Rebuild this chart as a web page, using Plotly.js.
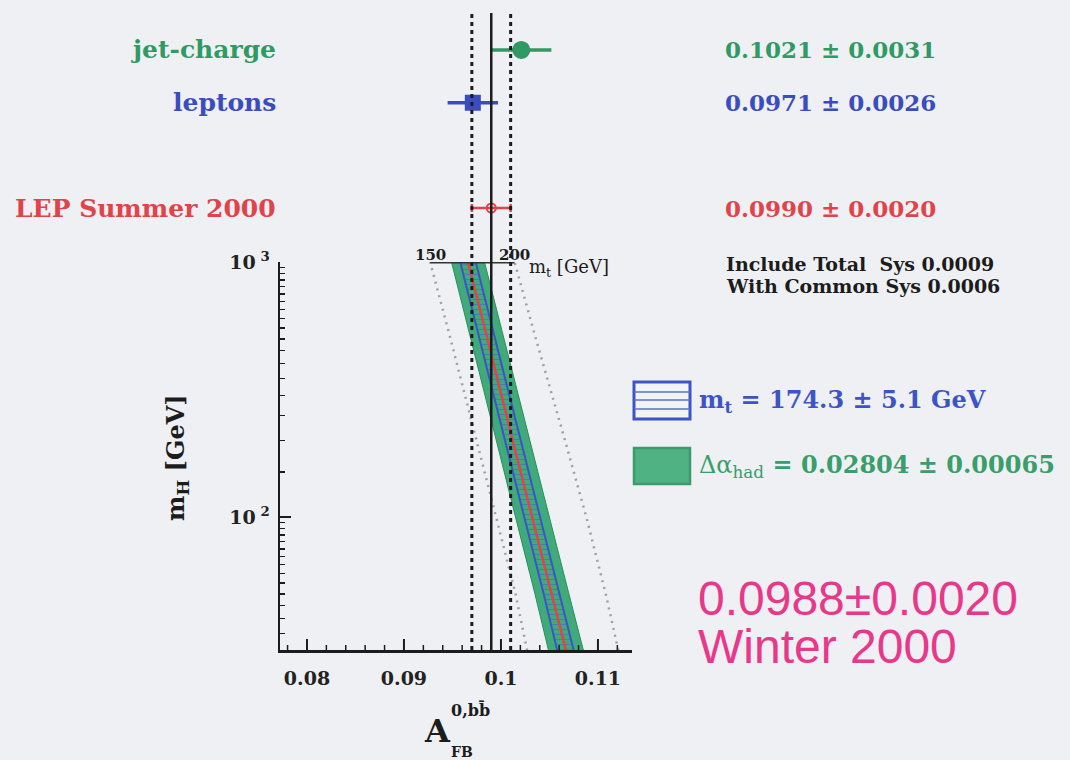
<!DOCTYPE html>
<html>
<head>
<meta charset="utf-8">
<script src="https://cdn.plot.ly/plotly-3.0.1.min.js"></script>
<style>
  html, body { margin: 0; padding: 0; background: #eef0f3; }
  #chart { width: 1070px; height: 760px; }
</style>
</head>
<body>
<div id="chart"></div>
<script>
// ---- Measurements of A_FB^{0,b} ----
const measNames   = ['jet-charge', 'leptons', 'LEP Summer 2000'];
const measValues  = [0.1021, 0.0971, 0.0990];
const measErrors  = [0.0031, 0.0026, 0.0020];
const measRows    = [4, 3, 1];

// ---- Standard Model prediction versus the Higgs mass ----
const mH          = [30, 50, 100, 200, 500, 1000];
const afbCentral  = [0.1067, 0.1052, 0.1032, 0.1012, 0.0986, 0.0966];
const afbAlphaLo  = [0.1049, 0.1035, 0.1015, 0.0995, 0.0969, 0.0949];
const afbAlphaHi  = [0.1085, 0.1070, 0.1050, 0.1030, 0.1003, 0.0983];
const afbTopLo    = [0.1058, 0.1044, 0.1024, 0.1004, 0.0978, 0.0958];
const afbTopHi    = [0.1075, 0.1060, 0.1040, 0.1020, 0.0994, 0.0974];
const afbMt150    = [0.1027, 0.1015, 0.0995, 0.0975, 0.0948, 0.0927];
const afbMt200    = [0.1121, 0.1108, 0.1088, 0.1066, 0.1036, 0.1014];
const mtScale     = ['150', '200'];

// ---- axis tick labels ----
const xTickVals   = [0.08, 0.09, 0.1, 0.11];
const xTickText   = ['0.08', '0.09', '0.1', '0.11'];
const xMinorVals  = [0.078, 0.082, 0.084, 0.086, 0.088, 0.092, 0.094, 0.096, 0.098,
                     0.102, 0.104, 0.106, 0.108, 0.112];
const yTickVals   = [100, 1000];
const yTickText   = ['10<sup> 2</sup>', '10<sup> 3</sup>'];
const yMinorVals  = [35, 40, 45, 50, 55, 60, 65, 70, 75, 80, 85, 90, 95,
                     150, 200, 250, 300, 350, 400, 450, 500, 550, 600, 650, 700, 750, 800, 850, 900, 950];

// ---- Inputs quoted in the legend ----
const topMass = 174.3, topMassErr = 5.1;
const dAlphaHad = 0.02804, dAlphaHadErr = 0.00065;
const sysTotal = 0.0009, sysCommon = 0.0006;
const winterValue = 0.0988, winterErr = 0.0020;

// ---- colours ----
const cGreen = '#2f9a63', cBlue = '#3a4cc0', cRed = '#e0434a', cInk = '#1c1c1c';
const measColors  = [cGreen, cBlue, cRed];
const measSymbols = ['circle', 'square', 'circle-open'];
const measSizes   = [16, 14, 9];

// ---- page geometry helpers (pixels -> paper fractions) ----
const W = 1070, H = 760, L = 280, R = 438, T = 10, B = 110;
const plotW = W - L - R, plotH = H - T - B;
const px = p => (p - L) / plotW;
const py = p => (H - B - p) / plotH;
const splitY = py(262);
const xRange = [0.07722, 0.11351];

const serif = (size, color, weight) => ({ family: 'DejaVu Serif', size: size, color: color, weight: weight || 'bold' });

const traces = [];

// Delta alpha_had band
traces.push({
  x: afbAlphaLo.concat(afbAlphaHi.slice().reverse()),
  y: mH.concat(mH.slice().reverse()),
  xaxis: 'x', yaxis: 'y', mode: 'lines', fill: 'toself',
  fillcolor: '#41aa7b', line: { color: '#2c8d5e', width: 1 },
  hoverinfo: 'skip', showlegend: false
});
// m_t band
traces.push({
  x: afbTopLo.concat(afbTopHi.slice().reverse()),
  y: mH.concat(mH.slice().reverse()),
  xaxis: 'x', yaxis: 'y', mode: 'lines', fill: 'toself',
  fillcolor: 'rgba(0,0,0,0)',
  fillpattern: { shape: '-', fgcolor: 'rgba(70,95,205,0.55)', bgcolor: 'rgba(0,0,0,0)', size: 5, solidity: 0.25 },
  line: { color: '#3d55c4', width: 2 },
  hoverinfo: 'skip', showlegend: false
});
// central prediction
traces.push({
  x: afbCentral, y: mH, xaxis: 'x', yaxis: 'y', mode: 'lines',
  line: { color: cRed, width: 2.5 }, hoverinfo: 'skip', showlegend: false
});
// m_t = 150 and 200 GeV predictions
[afbMt150, afbMt200].forEach(arr => traces.push({
  x: arr, y: mH, xaxis: 'x', yaxis: 'y', mode: 'lines',
  line: { color: '#9c9fa3', width: 2.5, dash: '2px,5px' }, hoverinfo: 'skip', showlegend: false
}));
// m_t scale at the top of the m_H axis
traces.push({
  x: [afbMt150[afbMt150.length - 1], afbMt200[afbMt200.length - 1]],
  y: [mH[mH.length - 1], mH[mH.length - 1]],
  xaxis: 'x', yaxis: 'y', mode: 'lines',
  line: { color: '#333333', width: 3 }, hoverinfo: 'skip', showlegend: false, cliponaxis: false
});

// measurements with horizontal error bars (upper panel)
measNames.forEach((name, i) => traces.push({
  x: [measValues[i]], y: [measRows[i]], xaxis: 'x2', yaxis: 'y2',
  mode: 'markers', type: 'scatter',
  marker: { symbol: measSymbols[i], size: measSizes[i], color: measColors[i], line: { color: measColors[i], width: 2 } },
  error_x: { type: 'data', array: [measErrors[i]], color: measColors[i], thickness: i === 2 ? 2.5 : 3.5, width: i === 2 ? 4 : 0 },
  hoverinfo: 'skip', showlegend: false, cliponaxis: false
}));

// vertical lines for the LEP average and its error
const lepIdx = 2;
const vline = (x, dash) => ({
  type: 'line', xref: 'x', yref: 'paper', x0: x, x1: x, y0: 0, y1: py(13),
  line: { color: cInk, width: dash ? 3 : 2.5, dash: dash || 'solid' }, layer: 'above'
});
const shapes = [
  vline(measValues[lepIdx]),
  vline(measValues[lepIdx] - measErrors[lepIdx], '4px,4px'),
  vline(measValues[lepIdx] + measErrors[lepIdx], '4px,4px'),
  // legend swatches
  { type: 'rect', xref: 'paper', yref: 'paper', x0: px(634), x1: px(690), y0: py(419), y1: py(382),
    line: { color: '#3d55c4', width: 3 }, fillcolor: 'rgba(255,255,255,0.2)' },
  { type: 'line', xref: 'paper', yref: 'paper', x0: px(634), x1: px(690), y0: py(392), y1: py(392), line: { color: '#5a6fd0', width: 1.5 } },
  { type: 'line', xref: 'paper', yref: 'paper', x0: px(634), x1: px(690), y0: py(400), y1: py(400), line: { color: '#5a6fd0', width: 1.5 } },
  { type: 'line', xref: 'paper', yref: 'paper', x0: px(634), x1: px(690), y0: py(409), y1: py(409), line: { color: '#5a6fd0', width: 1.5 } },
  { type: 'rect', xref: 'paper', yref: 'paper', x0: px(634), x1: px(690), y0: py(484), y1: py(448),
    line: { color: '#3c9a6c', width: 2.5 }, fillcolor: '#4fb283' }
];
// upward tick marks along the bottom axis
const xTick = (v, len, w) => ({
  type: 'line', xref: 'x', yref: 'paper', x0: v, x1: v, y0: 0, y1: len / plotH,
  line: { color: cInk, width: w }, layer: 'above'
});
xTickVals.forEach(v => shapes.push(xTick(v, 11, 2)));
xMinorVals.forEach(v => shapes.push(xTick(v, 5, 1.5)));

const fmt4 = v => v.toFixed(4);
const annotations = [];
measNames.forEach((name, i) => {
  annotations.push({ text: name, xref: 'paper', yref: 'y2', x: px(278), y: measRows[i],
    xanchor: 'right', yanchor: 'middle', showarrow: false, font: serif(25, measColors[i]) });
  annotations.push({ text: fmt4(measValues[i]) + ' ± ' + fmt4(measErrors[i]), xref: 'paper', yref: 'y2',
    x: px(723), y: measRows[i], xanchor: 'left', yanchor: 'middle', showarrow: false, font: serif(23, measColors[i]) });
});
annotations.push(
  { text: 'Include Total\u00a0 Sys ' + fmt4(sysTotal), xref: 'paper', yref: 'paper', x: px(724), y: py(264),
    xanchor: 'left', yanchor: 'middle', showarrow: false, font: serif(19, cInk) },
  { text: 'With Common Sys ' + fmt4(sysCommon), xref: 'paper', yref: 'paper', x: px(724), y: py(286),
    xanchor: 'left', yanchor: 'middle', showarrow: false, font: serif(19, cInk) },
  { text: 'm<sub>t</sub> = ' + topMass.toFixed(1) + ' ± ' + topMassErr.toFixed(1) + ' GeV', xref: 'paper', yref: 'paper',
    x: px(697), y: py(401), xanchor: 'left', yanchor: 'middle', showarrow: false, font: serif(24, '#3d55c4') },
  { text: 'Δα<sub>had</sub><b> = ' + dAlphaHad.toFixed(5) + ' ± ' + dAlphaHadErr.toFixed(5) + '</b>', xref: 'paper', yref: 'paper',
    x: px(697), y: py(466), xanchor: 'left', yanchor: 'middle', showarrow: false, font: serif(24, '#3a9e6c', 'normal') },
  { text: winterValue.toFixed(4) + '±' + winterErr.toFixed(4), xref: 'paper', yref: 'paper', x: px(696), y: py(598),
    xanchor: 'left', yanchor: 'middle', showarrow: false, font: { family: 'Liberation Sans', size: 48, color: '#e8388a' } },
  { text: 'Winter 2000', xref: 'paper', yref: 'paper', x: px(696), y: py(646),
    xanchor: 'left', yanchor: 'middle', showarrow: false, font: { family: 'Liberation Sans', size: 48, color: '#e8388a' } },
  // m_t scale labels
  { text: mtScale[0], xref: 'x', yref: 'paper', x: afbMt150[afbMt150.length - 1], y: py(255),
    xanchor: 'center', yanchor: 'middle', showarrow: false, font: serif(15, cInk) },
  { text: mtScale[1], xref: 'x', yref: 'paper', x: afbMt200[afbMt200.length - 1], y: py(255),
    xanchor: 'center', yanchor: 'middle', showarrow: false, font: serif(15, cInk) },
  { text: 'm<sub>t</sub> [GeV]', xref: 'x', yref: 'paper', x: afbMt200[afbMt200.length - 1], xshift: 12, y: py(268),
    xanchor: 'left', yanchor: 'middle', showarrow: false, font: serif(18, cInk, 'normal') },
  // axis titles
  { text: 'm<sub>H</sub> [GeV]', xref: 'paper', yref: 'paper', x: px(177), y: py(458), textangle: -90,
    xanchor: 'center', yanchor: 'middle', showarrow: false, font: serif(24, cInk) },
  { text: 'A', xref: 'paper', yref: 'paper', x: px(437), y: py(731),
    xanchor: 'center', yanchor: 'middle', showarrow: false, font: serif(32, cInk) },
  { text: '0,bb\u0304', xref: 'paper', yref: 'paper', x: px(449), y: py(710),
    xanchor: 'left', yanchor: 'middle', showarrow: false, font: serif(16, cInk) },
  { text: 'FB', xref: 'paper', yref: 'paper', x: px(449), y: py(752),
    xanchor: 'left', yanchor: 'middle', showarrow: false, font: serif(14, cInk) }
);

const tickFont = serif(19, '#222');
const layout = {
  width: W, height: H,
  margin: { l: L, r: R, t: T, b: B, pad: 0 },
  paper_bgcolor: '#eef0f3', plot_bgcolor: 'rgba(0,0,0,0)',
  showlegend: false,
  xaxis: {
    domain: [0, 1], anchor: 'y', range: xRange,
    showline: true, linecolor: cInk, linewidth: 2.5, mirror: false,
    showgrid: false, zeroline: false, ticks: '',
    tickmode: 'array', tickvals: xTickVals, ticktext: xTickText,
    tickfont: tickFont, ticklabelstandoff: 10
  },
  yaxis: {
    domain: [0, splitY], anchor: 'x', type: 'log', range: [Math.log10(30.1), 3],
    showline: true, linecolor: cInk, linewidth: 2.5, mirror: false,
    showgrid: false, zeroline: false,
    ticks: 'inside', ticklen: 11, tickwidth: 2, tickcolor: cInk,
    tickmode: 'array', tickvals: yTickVals, ticktext: yTickText,
    tickfont: tickFont, ticklabelstandoff: 4,
    minor: {
      ticks: 'inside', ticklen: 5, tickwidth: 1.5, tickcolor: cInk, showgrid: false,
      tickmode: 'array', tickvals: yMinorVals
    }
  },
  xaxis2: {
    domain: [0, 1], anchor: 'y2', range: xRange, visible: false, fixedrange: true
  },
  yaxis2: {
    domain: [splitY, 1], anchor: 'x2', range: [-0.025, 4.759], visible: false, fixedrange: true
  },
  shapes: shapes,
  annotations: annotations
};

Plotly.newPlot('chart', traces, layout, { staticPlot: true, displayModeBar: false });
</script>
</body>
</html>
